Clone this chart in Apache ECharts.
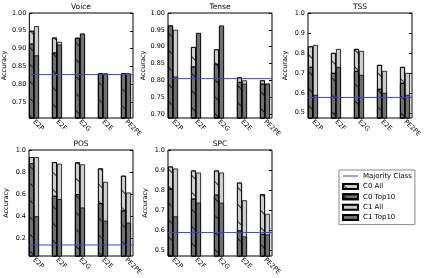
<!DOCTYPE html>
<html><head><meta charset="utf-8">
<script src="https://cdn.jsdelivr.net/npm/echarts@6/dist/echarts.min.js"></script>
<style>html,body{margin:0;padding:0;background:#fff}#c{width:427px;height:278px}</style>
</head><body><div id="c"></div>
<script>
const categories = ['E2P', 'E2F', 'E2G', 'E2E', 'PE2PE'];
const seriesNames = ['Majority Class', 'C0 All', 'C0 Top10', 'C1 All', 'C1 Top10'];

// Voice
const voiceC0All   = [0.950, 0.931, 0.930, 0.830, 0.830];
const voiceC0Top10 = [0.914, 0.889, 0.930, 0.830, 0.830];
const voiceC1All   = [0.963, 0.919, 0.942, 0.830, 0.830];
const voiceC1Top10 = [0.881, 0.911, 0.942, 0.830, 0.830];
const voiceMajority = 0.827;
const voiceTicks = [0.75, 0.80, 0.85, 0.90, 0.95, 1.00];

// Tense
const tenseC0All   = [0.960, 0.899, 0.892, 0.809, 0.800];
const tenseC0Top10 = [0.963, 0.841, 0.849, 0.795, 0.790];
const tenseC1All   = [0.950, 0.940, 0.960, 0.800, 0.790];
const tenseC1Top10 = [0.811, 0.941, 0.963, 0.790, 0.790];
const tenseMajority = 0.805;
const tenseTicks = [0.70, 0.75, 0.80, 0.85, 0.90, 0.95, 1.00];

// TSS
const tssC0All   = [0.833, 0.800, 0.820, 0.740, 0.730];
const tssC0Top10 = [0.730, 0.700, 0.710, 0.620, 0.650];
const tssC1All   = [0.840, 0.820, 0.810, 0.710, 0.700];
const tssC1Top10 = [0.590, 0.730, 0.690, 0.600, 0.590];
const tssMajority = 0.577;
const tssTicks = [0.5, 0.6, 0.7, 0.8, 0.9, 1.0];

// POS
const posC0All   = [0.936, 0.890, 0.888, 0.833, 0.767];
const posC0Top10 = [0.880, 0.585, 0.600, 0.518, 0.452];
const posC1All   = [0.936, 0.875, 0.870, 0.712, 0.615];
const posC1Top10 = [0.400, 0.555, 0.479, 0.360, 0.342];
const posMajority = 0.14;
const posTicks = [0.2, 0.4, 0.6, 0.8, 1.0];

// SPC
const spcC0All   = [0.918, 0.898, 0.898, 0.838, 0.780];
const spcC0Top10 = [0.808, 0.758, 0.778, 0.600, 0.583];
const spcC1All   = [0.908, 0.888, 0.888, 0.750, 0.683];
const spcC1Top10 = [0.670, 0.738, 0.738, 0.570, 0.580];
const spcMajority = 0.59;
const spcTicks = [0.5, 0.6, 0.7, 0.8, 0.9, 1.0];

const FONT = 'DejaVu Sans';
const LIGHT = '#cdcdcd';
const DARK = '#707070';
const BLUE = '#4040d8';
const HATCH = {symbol: 'rect', symbolSize: 1, dashArrayX: [1, 0], dashArrayY: [1, 11], rotation: Math.PI / 4, color: 'rgba(0,0,0,0.8)'};
const LINE_ICON = 'path://M0,0h0.01v0.01h-0.01zM0,9.99h0.01v0.01h-0.01zM0,4.2H30V5.8H0Z';

const panels = [
  {title: 'Voice', c0All: voiceC0All, c0Top: voiceC0Top10, c1All: voiceC1All, c1Top: voiceC1Top10, maj: voiceMajority, ticks: voiceTicks, min: 0.705, max: 1, dec: 2, left: 29, top: 13, height: 105},
  {title: 'Tense', c0All: tenseC0All, c0Top: tenseC0Top10, c1All: tenseC1All, c1Top: tenseC1Top10, maj: tenseMajority, ticks: tenseTicks, min: 0.688, max: 1, dec: 2, left: 168, top: 13, height: 105},
  {title: 'TSS', c0All: tssC0All, c0Top: tssC0Top10, c1All: tssC1All, c1Top: tssC1Top10, maj: tssMajority, ticks: tssTicks, min: 0.474, max: 1, dec: 1, left: 308, top: 13, height: 105},
  {title: 'POS', c0All: posC0All, c0Top: posC0Top10, c1All: posC1All, c1Top: posC1Top10, maj: posMajority, ticks: posTicks, min: 0.04, max: 1, dec: 1, left: 29, top: 150, height: 106},
  {title: 'SPC', c0All: spcC0All, c0Top: spcC0Top10, c1All: spcC1All, c1Top: spcC1Top10, maj: spcMajority, ticks: spcTicks, min: 0.473, max: 1, dec: 1, left: 168, top: 150, height: 106}
];

const option = {
  animation: false,
  textStyle: {fontFamily: FONT},
  title: [], grid: [], xAxis: [], yAxis: [], series: [],
  legend: {
    orient: 'vertical', left: 339, top: 170,
    padding: [2, 3, 3, 3],
    itemWidth: 15, itemHeight: 5, itemGap: 2.4,
    borderColor: '#888', borderWidth: 1, backgroundColor: '#fff',
    textStyle: {fontSize: 7, color: '#000', fontFamily: FONT, lineHeight: 8},
    data: [
      {name: seriesNames[0], icon: LINE_ICON, itemStyle: {color: BLUE, borderWidth: 0}},
      {name: seriesNames[1], icon: 'rect'},
      {name: seriesNames[2], icon: 'rect'},
      {name: seriesNames[3], icon: 'rect'},
      {name: seriesNames[4], icon: 'rect'}
    ]
  }
};

panels.forEach(p => {
  const W = 104;
  option.title.push({text: p.title, left: p.left + W / 2, top: p.top - 10, textAlign: 'center', padding: 0,
    textStyle: {fontSize: 7.5, fontWeight: 'normal', color: '#000', fontFamily: FONT}});
  const gF = option.grid.length;
  option.grid.push({left: p.left, top: p.top, width: W, height: p.height, show: true, borderColor: '#000', borderWidth: 1, backgroundColor: 'transparent'});
  const gB = gF + 1;
  option.grid.push({left: p.left - 6.5, top: p.top, width: 115, height: p.height});

  const xF = option.xAxis.length;
  option.xAxis.push({gridIndex: gF, type: 'category', data: ['start', 'end'], boundaryGap: false, show: false});
  option.xAxis.push({gridIndex: gB, type: 'category', data: categories,
    axisLine: {show: false}, axisTick: {show: false},
    axisLabel: {rotate: -45, fontSize: 6.5, color: '#000', margin: 3, interval: 0, fontFamily: FONT}});
  option.xAxis.push({gridIndex: gB, type: 'category', data: categories, show: false});
  const xA = xF + 1, xT = xF + 2;

  const yL = option.yAxis.length;
  option.yAxis.push({gridIndex: gF, type: 'value', min: p.min, max: p.max,
    name: 'Accuracy', nameLocation: 'middle', nameGap: 19,
    nameTextStyle: {fontSize: 6.5, color: '#000', fontFamily: FONT},
    splitLine: {show: false}, axisLine: {show: false},
    axisTick: {show: true, inside: true, length: 3, customValues: p.ticks, lineStyle: {color: '#000'}},
    axisLabel: {customValues: p.ticks, formatter: v => v.toFixed(p.dec), fontSize: 6.5, color: '#000', margin: 3, fontFamily: FONT}});
  option.yAxis.push({gridIndex: gF, type: 'value', position: 'right', min: p.min, max: p.max,
    splitLine: {show: false}, axisLine: {show: false},
    axisTick: {show: true, inside: true, length: 3, customValues: p.ticks, lineStyle: {color: '#000'}},
    axisLabel: {show: false}});
  option.yAxis.push({gridIndex: gB, type: 'value', min: p.min, max: p.max, show: false});
  const yB = yL + 2;

  const bar = (name, axis, data, color, decal) => {
    const itemStyle = {color, borderColor: '#000', borderWidth: 0.8};
    if (decal) itemStyle.decal = decal;
    return {
      type: 'bar', name, xAxisIndex: axis, yAxisIndex: yB, data,
      barWidth: 5, barGap: '0%', itemStyle,
      emphasis: {disabled: true}, z: 2
    };
  };
  option.series.push(bar('C0 All', xA, p.c0All, LIGHT, HATCH));
  option.series.push(bar('C1 All', xA, p.c1All, LIGHT, null));
  option.series.push(bar('C0 Top10', xT, p.c0Top, DARK, HATCH));
  option.series.push(bar('C1 Top10', xT, p.c1Top, DARK, null));

  option.series.push({
    type: 'line', name: 'Majority Class', xAxisIndex: xF, yAxisIndex: yL,
    data: [p.maj, p.maj],
    symbol: 'none', showSymbol: false, silent: true,
    lineStyle: {color: BLUE, width: 1, opacity: 1}, itemStyle: {color: BLUE}, z: 10,
    emphasis: {disabled: true}
  });
});

const chart = echarts.init(document.getElementById('c'), null, {renderer: 'canvas'});
chart.setOption(option);
</script></body></html>
